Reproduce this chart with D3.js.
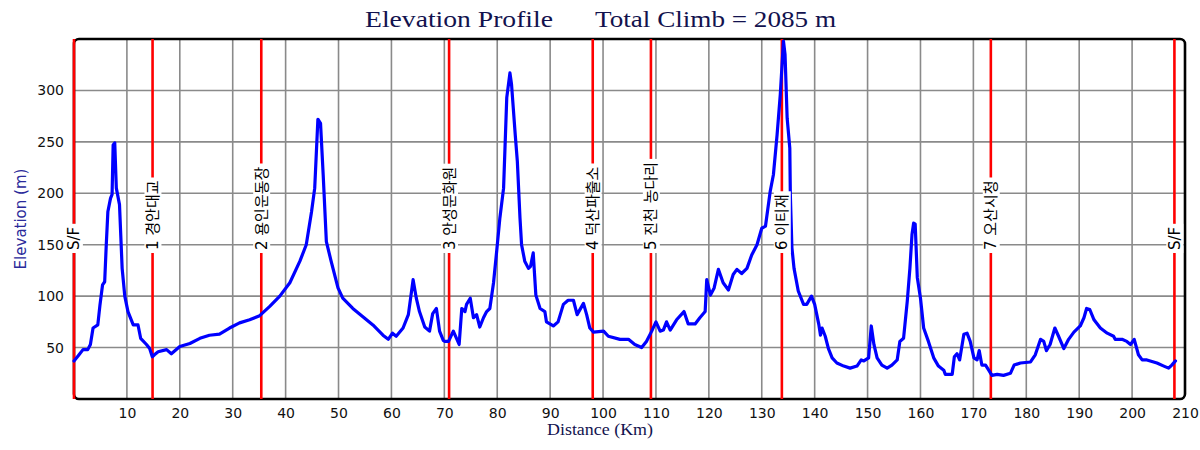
<!DOCTYPE html>
<html>
<head>
<meta charset="utf-8">
<script src="https://cdn.jsdelivr.net/npm/d3@7"></script>
<style>
  html, body { margin: 0; padding: 0; background: #fff; }
  svg { display: block; }
  .serif { font-family: 'Liberation Serif', serif; }
</style>
</head>
<body>
<svg id="chart" width="1200" height="450"></svg>
<script>
// ---- data ----
const distanceKm = [0,0.8,1.7,2.6,3.1,3.6,4.5,4.9,5.4,5.8,6.1,6.4,6.9,7.2,7.4,7.7,8.0,8.6,9.1,9.6,10.2,11.2,12.1,12.6,13.7,14.3,14.8,15.2,15.9,17.5,18.4,20,21.9,23.8,25.6,27.5,29.4,31.3,33.2,35.1,37.0,38.9,40.8,42.7,43.9,44.9,45.5,46.1,46.6,47.1,47.7,48.6,49.9,50.8,52.7,54.6,56.5,58.4,59.4,60.2,60.9,62.2,63.2,64.1,64.7,65.3,66.3,67.2,67.8,68.5,69.1,69.8,70.1,70.8,71.7,72.3,72.8,73.3,73.9,74.2,74.9,75.5,76.1,76.7,77.4,78.0,78.6,79.3,79.9,80.5,81.2,81.8,82.4,82.7,83.4,83.8,84.3,84.6,85.2,85.9,86.3,86.8,87.3,88.1,89.0,89.3,90.6,91.5,92.5,93.4,94.4,95.1,96.3,96.9,97.5,98.2,100.1,101.0,103.2,104.8,106.0,107.3,108.2,109.2,110.0,110.8,111.4,112.0,112.7,113.9,115.3,116.1,117.4,118.3,119.3,119.6,120.3,121.0,121.8,122.7,123.7,124.6,125.3,126.2,127.2,128.1,129.1,130.0,130.7,131.6,132.2,132.9,133.5,134.1,134.4,134.8,135.3,135.4,135.7,136.1,136.9,137.9,138.5,139.4,140.0,140.8,141.1,141.4,142.0,142.6,143.3,144.2,145.5,146.7,148.0,148.8,149.3,150.2,150.7,151.2,151.8,152.7,153.7,154.6,155.6,156.1,156.8,157.5,158.0,158.4,158.7,159.0,159.4,160.0,160.6,161.5,162.5,163.4,164.4,164.7,166.0,166.4,166.9,167.4,168.2,168.8,169.4,170.1,170.7,171.1,171.6,172.3,172.9,173.5,174.5,175.7,177.0,177.7,178.9,180.8,181.7,182.7,183.3,183.8,184.5,185.4,186.1,187.1,188.0,189.0,190.2,190.9,191.4,192.0,192.8,194.0,195.3,196.5,196.8,198.1,199.0,199.7,200.4,201.2,201.9,202.8,204.7,206.0,206.9,207.5,208.2];
const elevationM = [37,42,48,48,53,69,72,91,111,114,150,182,195,199,247,249,205,189,127,100,85,72,72,59,53,49,41,43,46,48,44,51,54,59,62,63,69,74,77,81,90,100,113,134,150,182,205,272,268,218,153,134,108,98,88,80,72,62,58,64,61,69,82,116,98,85,70,66,83,88,66,57,56,56,66,59,53,88,85,92,98,79,82,70,79,85,88,113,144,176,205,293,317,306,257,231,176,150,134,127,129,142,101,88,85,75,71,75,92,96,96,82,93,82,69,65,66,61,58,58,53,50,56,66,75,66,67,75,67,77,85,73,73,79,85,116,101,108,126,113,106,121,126,122,127,140,150,166,168,202,218,257,296,348,335,273,244,199,147,127,105,92,92,100,92,72,62,69,61,49,40,35,32,30,32,38,37,40,71,53,40,33,30,33,38,56,59,95,127,160,171,170,118,98,69,56,40,32,28,24,24,41,44,38,63,64,56,40,38,47,33,33,28,23,24,23,25,33,35,36,43,58,56,47,53,69,61,49,58,65,71,79,88,87,77,69,64,61,58,58,56,53,58,43,38,38,35,32,30,33,37];

const checkpointKm = [0, 14.85, 35.4, 70.9, 98.05, 109.05, 133.8, 173.3, 208.0];
const checkpointNames = ["S/F", "1 경안대교", "2 용인운동장", "3 안성문화원", "4 덕산파출소", "5 진천 농다리", "6 이티재", "7 오산시청", "S/F"];

const xTickValues = [10,20,30,40,50,60,70,80,90,100,110,120,130,140,150,160,170,180,190,200,210];
const yTickValues = [50,100,150,200,250,300];

const titleLeft = "Elevation Profile";
const titleRight = "Total Climb = 2085 m";
const xTitle = "Distance (Km)";
const yTitle = "Elevation (m)";

// ---- layout ----
const L = 74, R = 1185, T = 39, B = 399;
const svg = d3.select("#chart");
const x = d3.scaleLinear().domain([0, 210]).range([L, R]);
const y = d3.scaleLinear().domain([0, 350]).range([B, T]);

const sans = "'DejaVu Sans', 'Noto Sans CJK KR', sans-serif";
const navy = "#12124e";

// grid
const grid = svg.append("g").attr("stroke", "#8a8a8a").attr("stroke-width", 1.6);
grid.selectAll("line.v").data(xTickValues.filter(v => v < 210)).join("line")
  .attr("x1", d => x(d)).attr("x2", d => x(d)).attr("y1", T).attr("y2", B);
grid.selectAll("line.h").data(yTickValues).join("line")
  .attr("x1", L).attr("x2", R).attr("y1", d => y(d)).attr("y2", d => y(d));

// border
svg.append("rect").attr("x", L).attr("y", T).attr("width", R - L).attr("height", B - T)
  .attr("rx", 5).attr("fill", "none").attr("stroke", "#000").attr("stroke-width", 2.6);

// axes labels (ticks)
const xAxis = svg.append("g").attr("transform", `translate(0,${B})`)
  .call(d3.axisBottom(x).tickValues(xTickValues).tickSize(0).tickPadding(9).tickFormat(d3.format("d")));
xAxis.select(".domain").remove();
xAxis.selectAll("text").attr("font-family", sans).attr("font-size", 14).attr("fill", "#111");

const yAxis = svg.append("g").attr("transform", `translate(${L},0)`)
  .call(d3.axisLeft(y).tickValues(yTickValues).tickSize(0).tickPadding(10).tickFormat(d3.format("d")));
yAxis.select(".domain").remove();
yAxis.selectAll("text").attr("font-family", sans).attr("font-size", 14).attr("fill", "#111");

// checkpoint lines
svg.append("g").selectAll("line").data(checkpointKm).join("line")
  .attr("x1", d => x(d)).attr("x2", d => x(d)).attr("y1", T).attr("y2", B)
  .attr("stroke", "#ff0000").attr("stroke-width", 2.6);

// profile line
const pts = distanceKm.map((d, i) => [d, elevationM[i]]);
svg.append("path").datum(pts)
  .attr("d", d3.line().x(d => x(d[0])).y(d => y(d[1])))
  .attr("fill", "none").attr("stroke", "#0000ff").attr("stroke-width", 3.2)
  .attr("stroke-linejoin", "round").attr("stroke-linecap", "round");

// checkpoint labels
checkpointKm.forEach((d, i) => {
  const g = svg.append("g").attr("transform", `translate(${x(d)},250) rotate(-90)`);
  const t = g.append("text").attr("x", 0).attr("y", 0).attr("dy", "0.36em")
    .attr("font-family", sans).attr("font-size", 15).attr("fill", "#000")
    .text(checkpointNames[i]);
  const bb = t.node().getBBox();
  g.insert("rect", "text").attr("x", bb.x - 3).attr("y", bb.y + 0.5)
    .attr("width", bb.width + 6).attr("height", bb.height - 1).attr("fill", "#fff");
});

// titles
svg.append("text").attr("class", "serif").attr("x", 365).attr("y", 27).attr("text-anchor", "start")
  .attr("font-size", 24).attr("fill", navy)
  .attr("textLength", 188).attr("lengthAdjust", "spacingAndGlyphs").text(titleLeft);
svg.append("text").attr("class", "serif").attr("x", 595).attr("y", 27).attr("text-anchor", "start")
  .attr("font-size", 24).attr("fill", navy)
  .attr("textLength", 241).attr("lengthAdjust", "spacingAndGlyphs").text(titleRight);

svg.append("text").attr("class", "serif").attr("x", 547).attr("y", 435).attr("text-anchor", "start")
  .attr("font-size", 17).attr("fill", navy)
  .attr("textLength", 106).attr("lengthAdjust", "spacingAndGlyphs").text(xTitle);

svg.append("text").attr("transform", `translate(26,${(T + B) / 2}) rotate(-90)`)
  .attr("text-anchor", "middle").attr("font-family", sans)
  .attr("font-size", 15).attr("fill", "#2a2a9a").text(yTitle);
</script>
</body>
</html>
